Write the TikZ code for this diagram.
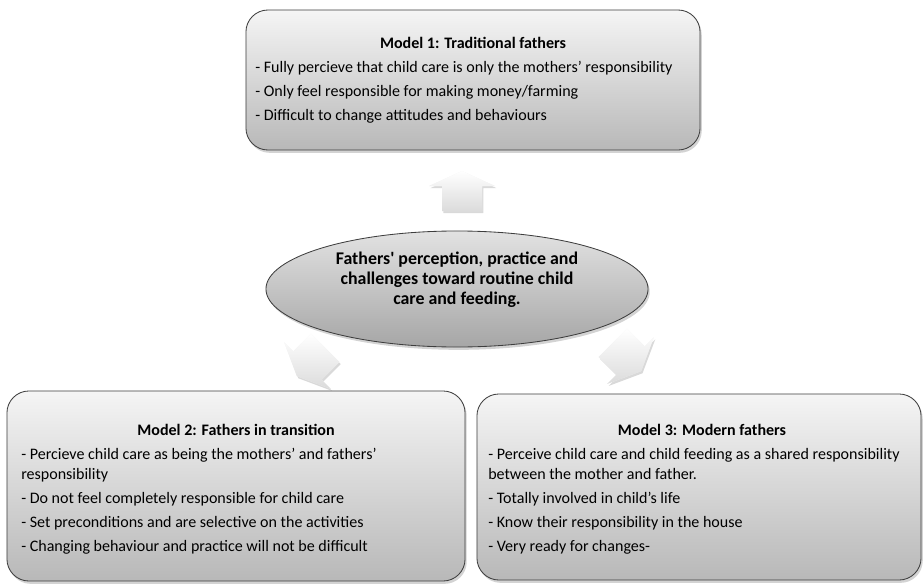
\documentclass[tikz,border=0pt]{standalone}
\usepackage{fontspec}
\setmainfont{Carlito}
\usetikzlibrary{positioning,shapes.geometric,shadows}
\definecolor{boxtop}{RGB}{245,245,245}
\definecolor{boxbottom}{RGB}{184,184,184}
\definecolor{ovaltop}{RGB}{226,226,226}
\definecolor{ovalbottom}{RGB}{166,166,166}
\definecolor{edgegray}{RGB}{62,62,62}

\begin{document}
\begin{tikzpicture}[x=0.025cm, y=-0.025cm,
  every node/.style={font=\fontsize{11.4}{14.2}\selectfont},
  modelbox/.style={draw=edgegray, line width=0.6pt, rounded corners=0.55cm, top color=boxtop, bottom color=boxbottom,
    drop shadow={shadow xshift=1.2pt, shadow yshift=-2pt, opacity=0.35}},
  hub/.style={ellipse, draw=edgegray, line width=0.6pt, top color=ovaltop, bottom color=ovalbottom,
    drop shadow={shadow xshift=1.2pt, shadow yshift=-2pt, opacity=0.35}},
  titletext/.style={inner sep=0pt, font=\fontsize{11.4}{14.2}\selectfont\bfseries},
  bodytext/.style={inner sep=0pt, align=left, anchor=north west},
  fatarrow/.style={fill=gray!10, top color=white, bottom color=gray!28,
    drop shadow={shadow xshift=1pt, shadow yshift=-1.5pt, opacity=0.3}}]
  \useasboundingbox (0,0) rectangle (923,585);
  % model 1 (top)
  \node[modelbox, minimum width=11.35cm, minimum height=3.5cm] (trad) at (473,80) {};
  \node[titletext] (tradtitle) at (473,43) {Model 1: Traditional fathers};
  \node[bodytext] (tradbody) at (255,61) {- Fully percieve that child care is only the mothers’ responsibility\\[2.8pt]
    - Only feel responsible for making money/farming\\[2.8pt]
    - Difficult to change attitudes and behaviours};
  % centre
  \node[hub, minimum width=9.55cm, minimum height=2.9cm] (hub) at (457,289) {};
  \node[titletext, align=center, font=\fontsize{12.7}{14.2}\selectfont\bfseries] (hubtext) at (457,280) {Fathers\textquotesingle{} perception, practice and\\
    challenges toward routine child\\ care and feeding.};
  % block arrows
  \path[fatarrow, shift={(462,191)}] (0,-20) -- (33,-5) -- (20,-5) -- (20,20) -- (-20,20) -- (-20,-5) -- (-33,-5) -- cycle;
  \path[fatarrow, shift={(311,362)}, rotate=135] (0,-20) -- (33,-5) -- (20,-5) -- (20,20) -- (-20,20) -- (-20,-5) -- (-33,-5) -- cycle;
  \path[fatarrow, shift={(627,357)}, rotate=-135] (0,-20) -- (33,-5) -- (20,-5) -- (20,20) -- (-20,20) -- (-20,-5) -- (-33,-5) -- cycle;
  % model 2 (left)
  \node[modelbox, minimum width=11.45cm, minimum height=4.75cm] (trans) at (236,486) {};
  \node[titletext] (transtitle) at (236,430) {Model 2: Fathers in transition};
  \node[bodytext] (transbody) at (21,448) {- Percieve child care as being the mothers’ and fathers’\\ responsibility\\[2.8pt]
    - Do not feel completely responsible for child care\\[2.8pt]
    - Set preconditions and are selective on the activities\\[2.8pt]
    - Changing behaviour and practice will not be difficult};
  % model 3 (right)
  \node[modelbox, minimum width=11.1cm, minimum height=4.65cm] (modern) at (699,487) {};
  \node[titletext] (moderntitle) at (702,430) {Model 3: Modern fathers};
  \node[bodytext] (modernbody) at (488,448) {- Perceive child care and child feeding as a shared responsibility\\ between the mother and father.\\[2.8pt]
    - Totally involved in child’s life\\[2.8pt]
    - Know their responsibility in the house\\[2.8pt]
    - Very ready for changes-};
\end{tikzpicture}
\end{document}
